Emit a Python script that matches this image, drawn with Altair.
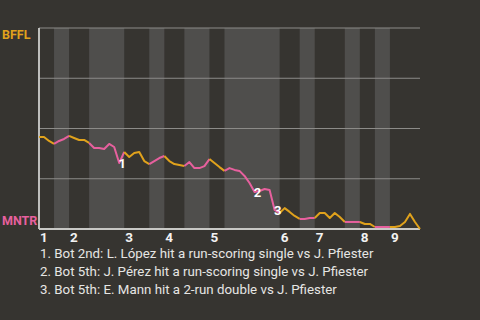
import altair as alt
import pandas as pd

# Win probability for BFFL after each plate appearance (0 = MNTR win, 1 = BFFL win)
win_prob = [0.458, 0.458, 0.438, 0.423, 0.438, 0.448, 0.463, 0.453, 0.443, 0.443,
            0.428, 0.403, 0.403, 0.398, 0.423, 0.408, 0.328, 0.383, 0.358, 0.378,
            0.383, 0.338, 0.323, 0.338, 0.353, 0.363, 0.338, 0.323, 0.318, 0.313,
            0.333, 0.303, 0.303, 0.313, 0.348, 0.328, 0.308, 0.289, 0.303, 0.294,
            0.289, 0.264, 0.229, 0.184, 0.189, 0.199, 0.194, 0.095, 0.080, 0.104,
            0.085, 0.065, 0.050, 0.050, 0.055, 0.055, 0.080, 0.080, 0.055, 0.080,
            0.060, 0.035, 0.035, 0.035, 0.035, 0.025, 0.025, 0.010, 0.010, 0.010,
            0.010, 0.010, 0.015, 0.035, 0.075, 0.035, 0.0]

# Plate-appearance index where each half inning begins (top 1st .. top 9th)
half_starts = [0, 3, 6, 10, 17, 22, 25, 29, 34, 37, 48, 52, 55, 61, 64, 67, 70]
last_pa = 76

innings = ["1", "2", "3", "4", "5", "6", "7", "8", "9"]
teams = ["BFFL", "MNTR"]
team_colors = ["#e0a21c", "#e7609e"]

# Key plays marked on the line
event_pa = [16, 43, 47]
event_labels = ["1", "2", "3"]
event_text = [
    "1. Bot 2nd: L. López hit a run-scoring single vs J. Pfiester",
    "2. Bot 5th: J. Pérez hit a run-scoring single vs J. Pfiester",
    "3. Bot 5th: E. Mann hit a 2-run double vs J. Pfiester",
]

W, H = 381, 201
BG = "#363430"
FONT = "Roboto"

half_ends = half_starts[1:] + [last_pa]

line_rows = []
for h, (s, e) in enumerate(zip(half_starts, half_ends)):
    for i in range(s, e + 1):
        line_rows.append({"pa": i, "wp": win_prob[i], "half": h, "team": teams[h % 2]})
line_df = pd.DataFrame(line_rows)

band_df = pd.DataFrame([
    {"x": s, "x2": e} for h, (s, e) in enumerate(zip(half_starts, half_ends)) if h % 2 == 1
])

inning_df = pd.DataFrame({"pa": half_starts[0::2], "label": innings})
event_df = pd.DataFrame({
    "pa": event_pa,
    "wp": [win_prob[i] for i in event_pa],
    "label": event_labels,
})
grid_df = pd.DataFrame({"v": [0.25, 0.5, 0.75, 1.0]})

xs = alt.Scale(domain=[0, last_pa], nice=False, zero=False)
ys = alt.Scale(domain=[0, 1], nice=False)

bands = alt.Chart(band_df).mark_rect(color="#4f4e4c").encode(
    x=alt.X("x:Q", scale=xs, axis=None),
    x2="x2:Q",
    y=alt.value(0),
    y2=alt.value(H),
)

grid = alt.Chart(grid_df).mark_rule(color="#8c8b88", strokeWidth=1).encode(
    y=alt.Y("v:Q", scale=ys, axis=None),
    x=alt.value(0),
    x2=alt.value(W),
)

left_axis = alt.Chart(grid_df).mark_rule(color="#c8c8c6", strokeWidth=1).encode(
    x=alt.value(0), y=alt.value(0), y2=alt.value(H)
)
bottom_axis = alt.Chart(grid_df).mark_rule(color="#c8c8c6", strokeWidth=1.5).encode(
    y=alt.value(H), x=alt.value(0), x2=alt.value(W)
)

line = alt.Chart(line_df).mark_line(strokeWidth=2, strokeJoin="round").encode(
    x=alt.X("pa:Q", scale=xs, axis=None),
    y=alt.Y("wp:Q", scale=ys, axis=None),
    color=alt.Color("team:N", scale=alt.Scale(domain=teams, range=team_colors), legend=None),
    detail="half:N",
    order="pa:Q",
)

events = alt.Chart(event_df).mark_text(
    color="#ffffff", fontWeight="bold", fontSize=13, font=FONT, dx=3, dy=1
).encode(
    x=alt.X("pa:Q", scale=xs, axis=None),
    y=alt.Y("wp:Q", scale=ys, axis=None),
    text="label:N",
)

inning_labels = alt.Chart(inning_df).mark_text(
    color="#f2f2f2", fontWeight="bold", fontSize=13.5, font=FONT, align="left", dx=1
).encode(
    x=alt.X("pa:Q", scale=xs, axis=None),
    y=alt.value(H + 9),
    text="label:N",
)

team_df = pd.DataFrame({"team": teams, "ypos": [7, 193]})
team_labels = alt.Chart(team_df).mark_text(
    fontWeight="bold", fontSize=12.5, font=FONT, align="left"
).encode(
    x=alt.value(-37),
    y=alt.Y("ypos:Q", scale=None),
    text="team:N",
    color=alt.Color("team:N", scale=alt.Scale(domain=teams, range=team_colors), legend=None),
)

notes_df = pd.DataFrame({"text": event_text, "ypos": [226, 244, 262]})
notes = alt.Chart(notes_df).mark_text(
    color="#e6e6e4", fontSize=13.3, font=FONT, align="left"
).encode(
    x=alt.value(1),
    y=alt.Y("ypos:Q", scale=None),
    text="text:N",
)

chart = alt.layer(
    bands, grid, left_axis, bottom_axis, line, events, inning_labels, team_labels, notes
).properties(
    width=W,
    height=H,
    background=BG,
    padding={"left": 39, "top": 28, "right": 60, "bottom": 91},
    autosize=alt.AutoSizeParams(type="none"),
).configure_view(stroke=None)

chart.save("out.html", embed_options={"renderer": "svg", "actions": False})
